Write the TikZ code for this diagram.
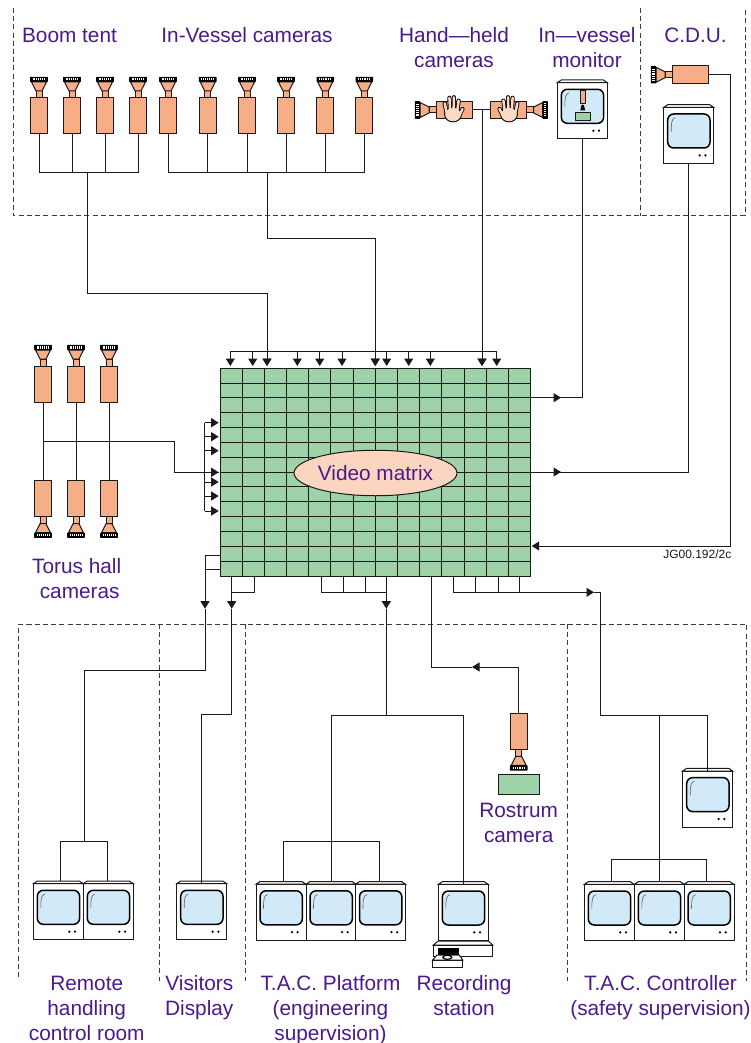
\documentclass[tikz,border=0pt]{standalone}
\usepackage{fontspec}
\setmainfont{Liberation Sans}
\usetikzlibrary{arrows.meta,shapes.geometric}
\definecolor{camo}{HTML}{F6AE87}
\definecolor{grn}{HTML}{9FD2A8}
\definecolor{scr}{HTML}{D2E9F8}
\definecolor{ell}{HTML}{FCD5C0}
\definecolor{skin}{HTML}{FCD9C4}
\definecolor{labc}{HTML}{4A1A8C}
\definecolor{ln}{HTML}{1A1A1A}
\tikzset{
  conn/.style={draw=ln,line width=1pt},
  arr/.style={conn,-{Triangle[length=7.5pt,width=9pt]}},
  zone/.style={draw=ln!85,line width=0.95pt,dash pattern=on 5pt off 3.2pt},
  lab/.style={text=labc,font=\fontsize{20.8}{25}\selectfont,inner sep=0pt,align=center,anchor=base},
  vbody/.style={draw=ln,fill=camo,line width=1pt,minimum width=17.3pt,minimum height=36pt,inner sep=0pt,outer sep=0pt},
  hbody/.style={draw=ln,fill=camo,line width=1pt,minimum width=36pt,minimum height=17.5pt,inner sep=0pt,outer sep=0pt},
  monbox/.style={draw=ln,fill=white,line width=1pt,minimum width=50pt,minimum height=56pt,inner sep=0pt,outer sep=0pt,anchor=north west},
  part/.style={draw=ln,fill=camo,line width=1pt}
}
\newcommand\camlens[3]{%
  \begin{scope}[shift={(#1,#2)},rotate=#3]
    \path[part] (-3,0) rectangle (3,-7);
    \path[part] (-3,-7) -- (-7.5,-16) -- (7.5,-16) -- (3,-7) -- cycle;
    \fill[black,rounded corners=0.5pt] (-8.8,-16) rectangle (8.8,-21.2);
    \draw[white,line width=2.2pt,dash pattern=on 1pt off 0.9pt] (-6.5,-18.6) -- (6.5,-18.6);
  \end{scope}}
\newcommand\camU[3]{\node[vbody] (#1) at (#2,#3+18) {};\camlens{#2}{#3}{0}}
\newcommand\camD[3]{\node[vbody] (#1) at (#2,#3-18) {};\camlens{#2}{#3}{180}}
\newcommand\camH[4]{\node[hbody] (#1) at (#2,#3) {};%
  \ifnum#4=90 \camlens{#2-18}{#3}{90}\else\camlens{#2+18}{#3}{-90}\fi}
\newcommand\monitor[3]{%
  \begin{scope}[shift={(#2,#3)}]
    \node[monbox] (#1) at (0,2.7) {};
    \draw[ln,fill=white,line width=1pt] (0,2.7) -- (4,0) -- (46,0) -- (50,2.7) -- cycle;
    \draw[black,fill=scr,line width=1.5pt,rounded corners=6pt] (4,9.3) rectangle (46.3,43.3);
    \draw[ln!70,line width=0.6pt] (7.5,27) .. controls (7.5,18) and (8,14) .. (11.5,13);
    \fill[black] (36,50.7) circle (1.25pt) (41.7,50.7) circle (1.25pt);
  \end{scope}}
\newcommand\hand[3]{%
  \begin{scope}[shift={(#1,#2)},xscale=#3,scale=1.12]
    \foreach \a/\b/\c/\d in {-5.8/3/-7.4/-5,-2.6/1/-3.2/-10,0.6/1/0.8/-10.5,3.8/2/5/-7.5,5.5/6/8.5/0}
      \draw[black,line width=4.2pt,line cap=round] (\a,\b) -- (\c,\d);
    \draw[black,fill=skin,line width=0.9pt] (0,5) ellipse (7.5 and 6.5);
    \foreach \a/\b/\c/\d in {-5.8/3/-7.4/-5,-2.6/1/-3.2/-10,0.6/1/0.8/-10.5,3.8/2/5/-7.5,5.5/6/8.5/0}
      \draw[skin,line width=2.5pt,line cap=round] (\a,\b) -- (\c,\d);
  \end{scope}}
\begin{document}
\begin{tikzpicture}[x=1pt,y=-1pt]
\useasboundingbox (0,0) rectangle (751,1043);
% zones
\draw[zone] (13,8) -- (13,215.5) -- (745,215.5) -- (745,8);
\draw[zone] (640,8) -- (640,215.5);
\draw[zone] (18.7,977) -- (18.7,624) -- (746.7,624) -- (746.7,981);
\draw[zone] (159.5,624) -- (159.5,981);
\draw[zone] (245,624) -- (245,981);
\draw[zone] (567.7,624) -- (567.7,981);
% coordinates
\coordinate (btj) at (87.3,172.7);
\coordinate (btv) at (267,293);
\coordinate (ivj) at (267.3,172.7);
\coordinate (ivv) at (375.3,238);
\coordinate (tbus) at (230,351.7);
\foreach \n/\x in {1/230.3,2/252.7,3/267,4/297.3,5/319.7,6/342,7/375.3,8/386.7,9/408.7,10/430.3,11/482,12/496.7}
  \coordinate (t\n) at (\x,366);
\coordinate (lbus) at (204.7,440);
\foreach \n/\y in {1/422.7,2/436.7,3/450.7,4/472.3,5/482,6/496,7/511}
  \coordinate (l\n) at (218.7,\y);
% cameras
\foreach \n/\x in {1/39,2/72,3/105,4/138} {\camU{bt\n}{\x}{98}}
\foreach \n/\x in {1/168,2/207.7,3/247,4/286,5/325.3,6/364.3} {\camU{iv\n}{\x}{98}}
\foreach \n/\x in {1/43,2/76,3/109} {\camU{tu\n}{\x}{366}\camD{td\n}{\x}{516.7}}
\camH{hl}{454}{110}{90}
\camH{hr}{508.7}{110}{-90}
\camH{cdu}{690}{74.7}{90}
\camD{rc}{518.7}{749.3}
\node[draw=ln,fill=grn,line width=1pt,minimum width=41pt,minimum height=20pt,inner sep=0pt] (rgreen) at (518.8,784.3) {};
\hand{453}{109}{1}
\hand{509}{109}{-1}
% monitors
\monitor{mivm}{557.3}{80}
\path[part] (580,90.7) rectangle (585.4,104);
\fill[black] (580.2,110.5) -- (581.6,105) -- (583.8,105) -- (585.2,110.5) -- cycle;
\path[draw=ln,fill=grn,line width=0.8pt] (575,112.7) rectangle (590.4,120);
\monitor{mcdu}{663.7}{104.7}
\monitor{mr1}{33.3}{881}
\monitor{mr2}{83.3}{881}
\monitor{mv}{176.7}{881}
\monitor{mp1}{256}{881.5}
\monitor{mp2}{306}{881.5}
\monitor{mp3}{355.5}{881.5}
\monitor{mrec}{438.3}{881.7}
\monitor{mc1}{584.3}{881.7}
\monitor{mc2}{634.3}{881.7}
\monitor{mc3}{684}{881.7}
\monitor{mc4}{682.7}{768.3}
% recording deck
\draw[ln,fill=white,line width=1pt] (438.3,941) -- (488.3,941) -- (492.7,945) -- (433.3,945) -- cycle;
\draw[ln,fill=white,line width=1pt] (433.3,945) rectangle (492.7,956);
\fill[black] (438.3,947.5) rectangle (459.3,956);
\draw[ln,fill=white,line width=1pt] (437,955) -- (459.3,955) -- (462.7,960) -- (432.7,960) -- cycle;
\draw[ln,fill=white,line width=1pt] (432.7,960) rectangle (462.7,967.3);
\draw[black,fill=white,line width=1.2pt] (447.3,957.3) ellipse (4.5 and 2);
% matrix
\node[draw=ln,fill=grn,line width=1pt,minimum width=310.7pt,minimum height=207.7pt,inner sep=0pt,outer sep=0pt] (vmx) at (375.35,472.15) {};
\foreach \i in {1,...,13} \draw[ln,line width=1pt] ({220+\i*22.193},368.3) -- ({220+\i*22.193},576);
\foreach \i in {1,...,13} \draw[ln,line width=1pt] (220,{368.3+\i*14.836}) -- (530.7,{368.3+\i*14.836});
\node[draw=ln,fill=ell,line width=1pt,ellipse,minimum width=155.5pt,minimum height=45.5pt,inner sep=0pt,text=labc,font=\fontsize{20.8}{25}\selectfont] (vm) at (375.5,473) {Video matrix};
% boom tent and in-vessel buses
\draw[conn] (bt1.south) |- (btj) -| (bt4.south);
\foreach \n in {2,3} \draw[conn] (bt\n.south) -- (bt\n.south |- btj);
\draw[conn] (iv1.south) |- (ivj) -| (iv6.south);
\foreach \n in {2,3,4,5} \draw[conn] (iv\n.south) -- (iv\n.south |- ivj);
% matrix top inputs
\draw[conn] (t1 |- tbus) -- (t12 |- tbus);
\foreach \n in {1,...,12} \draw[arr] (t\n |- tbus) -- (t\n);
\draw[arr] (btj) |- (btv) -- (t3);
\draw[arr] (ivj) |- (ivv) -- (t7);
\draw[conn] (hl.east) -- (hr.west);
\coordinate (hj) at (482,110);
\draw[arr] (hj) -- (t11);
% torus hall
\foreach \n in {1,2,3} \draw[conn] (tu\n.south) -- (td\n.north);
\coordinate (tj) at (43,441.7);
\coordinate (tv) at (174,441.7);
\draw[conn] (tj) -- (tv) -- (tv |- l4) -- (l4);
\draw[conn] (lbus |- l1) -- (lbus |- l7);
\foreach \n in {1,...,7} \draw[arr] (lbus |- l\n) -- (l\n);
% right side
\coordinate (mi1) at (530.7,397.7);
\coordinate (ah1) at (561,397.7);
\draw[conn] (mivm.south) |- (mi1);
\draw[arr] (mi1) -- (ah1);
\coordinate (mi2) at (530.7,472);
\coordinate (ah2) at (561,472);
\draw[conn] (mcdu.south) |- (mi2);
\draw[arr] (mi2) -- (ah2);
\coordinate (cj) at (730,546);
\coordinate (mi3) at (531.7,546);
\draw[arr] (cdu.east) -| (cj) -- (mi3);
% matrix outputs: remote handling
\coordinate (o1) at (220,555);
\coordinate (o2) at (220,569.3);
\coordinate (oa1) at (205,608.7);
\draw[conn] (o2) -- (oa1 |- o2);
\draw[arr] (o1) -| (oa1);
\coordinate (rk) at (84,670);
\coordinate (rb) at (84,841);
\draw[conn] (oa1) |- (rk) -- (rb);
\draw[conn] (60,881) |- (rb) -| (107.7,881);
% visitors
\coordinate (o3) at (231.7,576);
\coordinate (o4) at (254,576);
\coordinate (oa2) at (231.7,608.7);
\draw[conn] (o4) |- (o3 |- 0,592.3);
\draw[arr] (o3) -- (oa2);
\coordinate (vk) at (201.7,714);
\draw[conn] (oa2) |- (vk) -- (mv.north);
% platform
\foreach \x in {321,343,365.3} \draw[conn] (\x,576) -- (\x,592.3);
\coordinate (p0) at (321,592.3);
\coordinate (oa3) at (386.3,608.7);
\draw[conn] (p0) -| (386.3,576);
\draw[arr] (386.3,592.3) -- (oa3);
\coordinate (pk) at (386.3,715.7);
\coordinate (pl) at (331,715.7);
\coordinate (pr) at (464.7,715.7);
\draw[conn] (oa3) -- (pk);
\draw[conn] (pl |- 0,881) |- (pk) -| (mrec.north);
\coordinate (pb) at (331,841);
\draw[conn] (283,881) |- (pb) -| (379,881);
% rostrum
\coordinate (rs) at (431.3,576);
\coordinate (rj) at (431.3,667);
\coordinate (ra) at (472,667);
\draw[arr] (rc.north) |- (ra);
\draw[conn] (ra) -- (rj) -- (rs);
% controller
\foreach \x in {475.3,498,519} \draw[conn] (\x,576) -- (\x,592.3);
\coordinate (c0) at (453,592.3);
\coordinate (ca) at (594,592.3);
\draw[conn] (453,576) -- (c0);
\draw[arr] (c0) -- (ca);
\coordinate (ck) at (600,592.3);
\coordinate (cl) at (600,715.7);
\coordinate (cm) at (659,715.7);
\draw[conn] (ca) -- (ck) -- (cl) -| (mc4.north);
\draw[conn] (cm) -- (659,881.7);
\coordinate (cb) at (659,859.3);
\draw[conn] (611.3,881.7) |- (cb) -| (706.7,881.7);
% labels
\node[lab] (a1) at (69.5,42.7) {Boom tent};
\node[lab] (a2) at (247,42.7) {In-Vessel cameras};
\node[lab] (a3) at (454,68) {Hand—held\\cameras\hspace{9pt}};
\node[lab] (a4) at (587,68) {In—vessel\\monitor\hspace{9pt}};
\node[lab] (a5) at (695.5,42.7) {C.D.U.};
\node[lab] (a6) at (76.7,598) {Torus hall\\\hspace{6pt}cameras};
\node[lab] (a7) at (518.7,842.5) {Rostrum\\camera};
\node[lab] (a8) at (86.7,1040) {Remote\\handling\\control room};
\node[lab] (a9) at (199.3,1015) {Visitors\\Display};
\node[lab] (a10) at (330.5,1040) {T.A.C. Platform\\(engineering\\supervision)};
\node[lab] (a11) at (464,1015) {Recording\\station};
\node[lab] (a12) at (660.5,1015) {T.A.C. Controller\\(safety supervision)};
\node[anchor=base,inner sep=0pt,font=\fontsize{12}{14}\selectfont,text=ln] (jg) at (697.3,558) {JG00.192/2c};
\end{tikzpicture}
\end{document}
